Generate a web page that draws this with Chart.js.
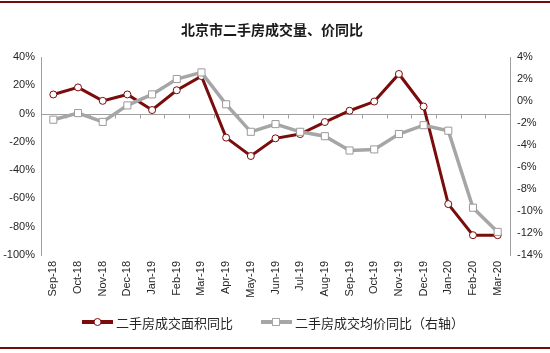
<!DOCTYPE html>
<html>
<head>
<meta charset="utf-8">
<script src="https://cdn.jsdelivr.net/npm/chart.js@4/dist/chart.umd.min.js"></script>
<style>
  html, body { margin: 0; padding: 0; background: #fff; }
  #wrap { width: 550px; height: 353px; }
</style>
</head>
<body>
<div id="wrap"><canvas id="chart" width="550" height="353"></canvas></div>
<script>
// months on the x axis
const months = ['Sep-18', 'Oct-18', 'Nov-18', 'Dec-18', 'Jan-19', 'Feb-19', 'Mar-19', 'Apr-19',
  'May-19', 'Jun-19', 'Jul-19', 'Aug-19', 'Sep-19', 'Oct-19', 'Nov-19', 'Dec-19',
  'Jan-20', 'Feb-20', 'Mar-20'];

// 二手房成交面积同比 (%), left axis
const areaYoY = [13.5, 18.5, 9, 13.5, 2.5, 16.5, 26.5, -17, -30, -17.5, -14.5, -6, 2, 8.5,
  28, 5, -64, -86, -86];

// 二手房成交均价同比 (%), right axis
const priceYoY = [-1.7, -1.1, -1.9, -0.4, 0.6, 2.0, 2.6, -0.3, -2.8, -2.1, -2.8, -3.2, -4.5,
  -4.4, -3.0, -2.2, -2.7, -9.7, -11.9];

const leftTicks = [40, 20, 0, -20, -40, -60, -80, -100];
const rightTicks = [4, 2, 0, -2, -4, -6, -8, -10, -12, -14];

const title = '北京市二手房成交量、价同比';
const areaLabel = '二手房成交面积同比';
const priceLabel = '二手房成交均价同比（右轴）';

const red = '#7a0c0c';
const grey = '#a6a6a6';
const axisGrey = '#a0a0a0';
const tickFont = { family: 'Liberation Sans, Arial, sans-serif', size: 11 };
const cjk = '"Noto Sans CJK SC", "Noto Sans", sans-serif';

// frame, title, zero line with category ticks, legend
const decor = {
  id: 'decor',
  beforeDraw(chart) {
    const ctx = chart.ctx;
    ctx.save();
    ctx.fillStyle = '#fff';
    ctx.fillRect(0, 0, chart.width, chart.height);
    ctx.restore();
  },
  beforeDatasetsDraw(chart) {
    const ctx = chart.ctx;
    const x = chart.scales.x;
    const y0 = Math.round(chart.scales.yL.getPixelForValue(0)) + 0.5;
    const area = chart.chartArea;
    ctx.save();
    ctx.strokeStyle = axisGrey;
    ctx.lineWidth = 1;
    ctx.beginPath();
    ctx.moveTo(area.left, y0);
    ctx.lineTo(area.right, y0);
    const step = x.getPixelForTick(1) - x.getPixelForTick(0);
    for (let i = 1; i < months.length; i++) {
      const px = Math.round(x.getPixelForTick(i) - step / 2) + 0.5;
      ctx.moveTo(px, y0);
      ctx.lineTo(px, y0 + 4);
    }
    ctx.stroke();
    ctx.restore();
  },
  afterDraw(chart) {
    const ctx = chart.ctx;
    ctx.save();
    // top and bottom rules
    ctx.fillStyle = '#6b0f0f';
    ctx.fillRect(0, 1, chart.width, 2);
    ctx.fillRect(0, 347, chart.width, 2);

    // title
    ctx.fillStyle = '#1a1a1a';
    ctx.font = 'bold 14px ' + cjk;
    ctx.textAlign = 'center';
    ctx.textBaseline = 'middle';
    ctx.fillText(title, 272, 30);

    // legend
    const ly = 322;
    ctx.lineWidth = 4;
    ctx.strokeStyle = red;
    ctx.beginPath(); ctx.moveTo(82, ly); ctx.lineTo(113, ly); ctx.stroke();
    ctx.lineWidth = 1;
    ctx.fillStyle = '#fff';
    ctx.beginPath(); ctx.arc(97.5, ly, 3.5, 0, Math.PI * 2); ctx.fill(); ctx.stroke();

    ctx.lineWidth = 4;
    ctx.strokeStyle = grey;
    ctx.beginPath(); ctx.moveTo(261, ly); ctx.lineTo(292, ly); ctx.stroke();
    ctx.lineWidth = 1;
    ctx.fillRect(272.5, ly - 3.5, 7, 7);
    ctx.strokeRect(272.5, ly - 3.5, 7, 7);

    ctx.fillStyle = '#262626';
    ctx.font = '13px ' + cjk;
    ctx.textAlign = 'left';
    ctx.fillText(areaLabel, 116, ly + 1);
    ctx.fillText(priceLabel, 295, ly + 1);
    ctx.restore();
  }
};

new Chart(document.getElementById('chart'), {
  type: 'line',
  data: {
    labels: months,
    datasets: [{
      label: priceLabel,
      data: priceYoY,
      yAxisID: 'yR',
      order: 0,
      borderColor: grey,
      borderWidth: 3.5,
      pointStyle: 'rect',
      pointRadius: 5,
      pointBackgroundColor: '#fff',
      pointBorderColor: '#9a9a9a',
      pointBorderWidth: 1,
      tension: 0
    }, {
      label: areaLabel,
      data: areaYoY,
      yAxisID: 'yL',
      order: 1,
      borderColor: red,
      borderWidth: 3,
      pointStyle: 'circle',
      pointRadius: 3.5,
      pointBackgroundColor: '#fff',
      pointBorderColor: red,
      pointBorderWidth: 1,
      tension: 0
    }]
  },
  options: {
    responsive: false,
    animation: false,
    devicePixelRatio: 1,
    layout: { padding: { top: 57, bottom: 0, left: 0, right: 0 } },
    plugins: {
      legend: { display: false },
      title: { display: false },
      tooltip: { enabled: false }
    },
    scales: {
      x: {
        type: 'category',
        offset: true,
        grid: { display: false, drawTicks: false },
        border: { display: false },
        ticks: {
          minRotation: 90,
          maxRotation: 90,
          autoSkip: false,
          padding: 6,
          color: '#262626',
          font: tickFont
        },
        afterFit: s => { s.height = 98; }
      },
      yL: {
        position: 'left',
        min: -100,
        max: 40,
        afterBuildTicks: s => { s.ticks = leftTicks.map(v => ({ value: v })); },
        grid: { display: false, drawTicks: false },
        border: { display: true, color: axisGrey, width: 1 },
        ticks: {
          padding: 6,
          color: '#262626',
          font: tickFont,
          callback: v => v + '%'
        },
        afterFit: s => { s.width = 41; }
      },
      yR: {
        position: 'right',
        min: -14,
        max: 4,
        afterBuildTicks: s => { s.ticks = rightTicks.map(v => ({ value: v })); },
        grid: { display: false, drawTicks: false },
        border: { display: true, color: axisGrey, width: 1 },
        ticks: {
          padding: 7,
          color: '#262626',
          font: tickFont,
          callback: v => v + '%'
        },
        afterFit: s => { s.width = 40; }
      }
    }
  },
  plugins: [decor]
});
</script>
</body>
</html>
